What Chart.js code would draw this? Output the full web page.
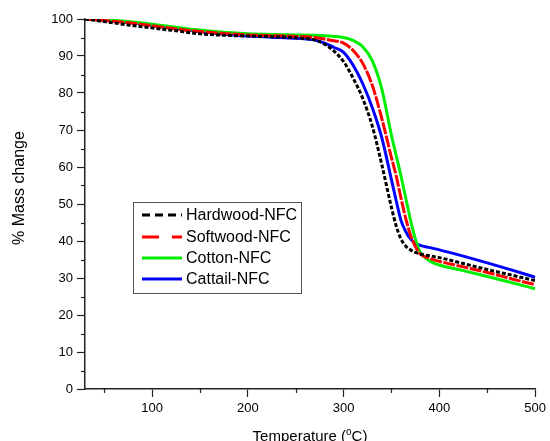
<!DOCTYPE html>
<html><head><meta charset="utf-8">
<script src="https://cdn.jsdelivr.net/npm/chart.js@4.4.0/dist/chart.umd.min.js"></script>
<style>html,body{margin:0;padding:0;background:#fff;}#wrap{width:550px;height:441px;}</style>
</head><body><div id="wrap"><canvas id="c" width="550" height="441"></canvas></div>
<script>
const temps = [30, 50, 75, 100, 125, 150, 175, 200, 225, 250, 270, 280, 290, 300, 310, 320, 330, 340, 350, 355, 360, 365, 370, 375, 380, 390, 400, 425, 450, 475, 500];
const hardwood = [100, 99.3, 98.4, 97.6, 96.8, 96.0, 95.6, 95.4, 95.2, 94.9, 94.3, 93.2, 91.3, 88.5, 84, 78.5, 71, 60.5, 49, 44, 40.5, 38.6, 37.6, 36.9, 36.5, 36.0, 35.5, 33.9, 32.3, 30.8, 29.3];
const softwood = [100, 99.6, 99.0, 98.2, 97.3, 96.6, 96.1, 95.7, 95.5, 95.3, 95.0, 94.6, 94.1, 93.5, 91.5, 88, 82, 73, 62.5, 57.5, 51.5, 46, 41.5, 38.5, 36.5, 35.3, 34.5, 33.0, 31.5, 29.8, 28.2];
const cotton = [100, 99.8, 99.3, 98.6, 97.8, 97.0, 96.4, 96.0, 95.8, 95.7, 95.6, 95.5, 95.3, 95.0, 94.2, 92.5, 88.7, 81, 68.5, 63, 57.5, 51.5, 45.5, 40.5, 37, 34.6, 33.5, 32.0, 30.4, 28.8, 27.1];
const cattail = [100, 99.7, 99.1, 98.4, 97.5, 96.6, 95.9, 95.4, 95.1, 94.8, 94.3, 93.5, 92.3, 91, 87.5, 82.5, 76, 67.8, 56.5, 50.8, 45.5, 42.5, 40.5, 39.4, 38.8, 38.2, 37.6, 35.9, 34.1, 32.2, 30.2];
const seriesNames = ['Hardwood-NFC', 'Softwood-NFC', 'Cotton-NFC', 'Cattail-NFC'];
const xTicks = [100, 200, 300, 400, 500];
const yTicks = [0, 10, 20, 30, 40, 50, 60, 70, 80, 90, 100];
const xMinor = [50, 150, 250, 350, 450];
const yMinor = [5, 15, 25, 35, 45, 55, 65, 75, 85, 95];
const xTitle = ['Temperature (', 'o', 'C)'];
const yTitle = '% Mass change';

const FONT = '"Liberation Sans", Arial, sans-serif';
const pts = arr => temps.map((t, i) => ({x: t, y: arr[i]}));
const styles = [
  {color: '#000000', dash: [4, 2], legendDash: [8, 5]},
  {color: '#ff0000', dash: [12, 1.5], legendDash: [17, 13]},
  {color: '#00ee00', dash: [], legendDash: []},
  {color: '#0000ff', dash: [], legendDash: []}
];
const values = [hardwood, softwood, cotton, cattail];

const extras = {
  id: 'extras',
  afterDraw(chart) {
    const ctx = chart.ctx;
    const xs = chart.scales.x, ys = chart.scales.y;
    const ca = chart.chartArea;
    ctx.save();
    ctx.strokeStyle = '#222'; ctx.lineWidth = 1.2;
    xMinor.forEach(v => { const px = Math.round(xs.getPixelForValue(v)) + 0.5; ctx.beginPath(); ctx.moveTo(px, ca.bottom); ctx.lineTo(px, ca.bottom + 4); ctx.stroke(); });
    yMinor.forEach(v => { const py = Math.round(ys.getPixelForValue(v)) + 0.5; ctx.beginPath(); ctx.moveTo(ca.left, py); ctx.lineTo(ca.left - 4, py); ctx.stroke(); });
    ctx.fillStyle = '#000';
    ctx.textBaseline = 'alphabetic';
    ctx.font = '15px ' + FONT;
    const w0 = ctx.measureText(xTitle[0]).width;
    ctx.font = '10px ' + FONT;
    const w1 = ctx.measureText(xTitle[1]).width;
    ctx.font = '15px ' + FONT;
    const w2 = ctx.measureText(xTitle[2]).width;
    let sx = 310 - (w0 + w1 + w2) / 2;
    const by = 441;
    ctx.textAlign = 'left';
    ctx.fillText(xTitle[0], sx, by);
    ctx.font = '10px ' + FONT;
    ctx.fillText(xTitle[1], sx + w0, by - 6);
    ctx.font = '15px ' + FONT;
    ctx.fillText(xTitle[2], sx + w0 + w1, by);
    ctx.save();
    ctx.translate(20, 188);
    ctx.rotate(-Math.PI / 2);
    ctx.textAlign = 'center'; ctx.textBaseline = 'middle';
    ctx.font = '16px ' + FONT;
    ctx.fillText(yTitle, 0, 0);
    ctx.restore();
    ctx.strokeStyle = '#555'; ctx.lineWidth = 1;
    ctx.strokeRect(133.5, 202.5, 168, 91);
    ctx.font = '16px ' + FONT;
    ctx.textAlign = 'left'; ctx.textBaseline = 'middle';
    const rows = [215, 237, 258, 279];
    chart.data.datasets.forEach((ds, i) => {
      ctx.strokeStyle = ds.borderColor; ctx.lineWidth = 3;
      ctx.setLineDash(styles[i].legendDash);
      ctx.beginPath(); ctx.moveTo(142, rows[i]); ctx.lineTo(182, rows[i]); ctx.stroke();
      ctx.setLineDash([]);
      ctx.fillStyle = '#000';
      ctx.fillText(ds.label, 186, rows[i] + 1);
    });
    ctx.restore();
  }
};

new Chart(document.getElementById('c'), {
  type: 'line',
  data: {
    datasets: seriesNames.map((n, i) => ({
      label: n, data: pts(values[i]), borderColor: styles[i].color, borderDash: styles[i].dash,
      borderWidth: 3, pointRadius: 0, fill: false, cubicInterpolationMode: 'monotone'
    }))
  },
  options: {
    responsive: false, animation: false, events: [],
    layout: {padding: {top: 19, right: 11, left: 0, bottom: 0}},
    plugins: {legend: {display: false}, tooltip: {enabled: false}},
    scales: {
      x: {
        type: 'linear', min: 30, max: 500,
        afterBuildTicks: s => { s.ticks = xTicks.map(v => ({value: v})); },
        afterFit: s => { s.height = 52; },
        grid: {display: true, drawOnChartArea: false, drawTicks: true, tickLength: 8, tickColor: '#222', tickWidth: 1.2},
        border: {display: true, color: '#222', width: 1.5},
        ticks: {color: '#000', font: {family: FONT, size: 13}, padding: 4, maxRotation: 0, autoSkip: false}
      },
      y: {
        min: 0, max: 100,
        afterBuildTicks: s => { s.ticks = yTicks.map(v => ({value: v})); },
        afterFit: s => { s.width = 85; },
        grid: {display: true, drawOnChartArea: false, drawTicks: true, tickLength: 8, tickColor: '#222', tickWidth: 1.2},
        border: {display: true, color: '#222', width: 1.5},
        ticks: {color: '#000', font: {family: FONT, size: 13}, padding: 4, autoSkip: false}
      }
    }
  },
  plugins: [extras]
});
</script></body></html>
